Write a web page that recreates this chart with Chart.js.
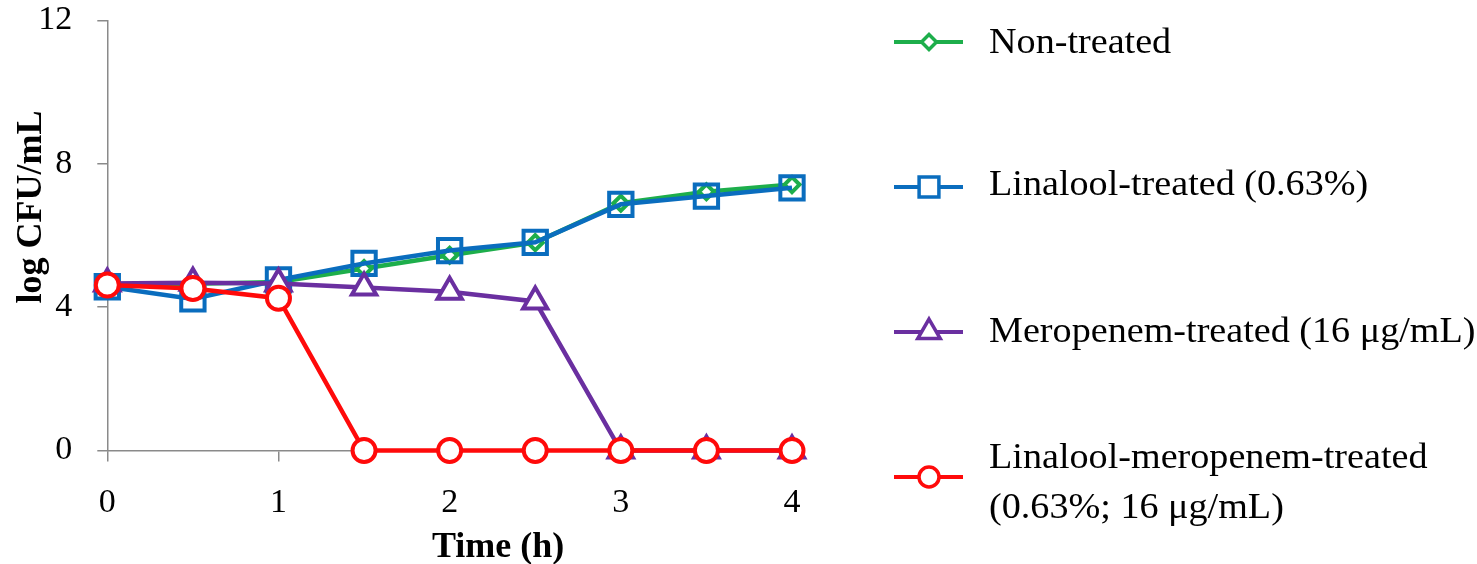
<!DOCTYPE html>
<html><head><meta charset="utf-8">
<script src="https://cdn.jsdelivr.net/npm/chart.js@4.4.0/dist/chart.umd.min.js"></script>
<style>html,body{margin:0;padding:0;background:#fff;overflow:hidden}#wrap{width:1477px;height:564px;position:relative}</style>
</head><body><div id="wrap"><canvas id="c" width="1477" height="564"></canvas></div>
<script>
const timePoints = [0, 0.5, 1, 1.5, 2, 2.5, 3, 3.5, 4];
const nonTreated = [4.60, 4.65, 4.70, 5.08, 5.45, 5.80, 6.90, 7.22, 7.42];
const linaloolTreated = [4.57, 4.23, 4.76, 5.22, 5.58, 5.81, 6.87, 7.10, 7.33];
const meropenemTreated = [4.66, 4.68, 4.66, 4.55, 4.43, 4.16, 0, 0, 0];
const comboTreated = [4.62, 4.52, 4.25, 0, 0, 0, 0, 0, 0];
const yTicks = [0, 4, 8, 12];
const xTicks = [0, 1, 2, 3, 4];
const seriesNames = [
  ['Non-treated'],
  ['Linalool-treated (0.63%)'],
  ['Meropenem-treated (16 μg/mL)'],
  ['Linalool-meropenem-treated', '(0.63%; 16 μg/mL)']
];
const xTitle = 'Time (h)';
const yTitle = 'log CFU/mL';

const SERIF = '"Liberation Serif", "DejaVu Serif", serif';
const colors = ['#1DAE4B', '#0A6DBE', '#6A2FA0', '#FF0A0A'];
const styles = [
  {pointStyle: 'rectRot', r: 7.5, bg: '#ffffff'},
  {pointStyle: 'rect', r: 16.5, bg: 'rgba(0,0,0,0)'},
  {pointStyle: 'triangle', r: 14, bg: '#ffffff'},
  {pointStyle: 'circle', r: 11.5, bg: '#ffffff'}
];
const allValues = [nonTreated, linaloolTreated, meropenemTreated, comboTreated];

const datasets = allValues.map((vals, i) => ({
  label: seriesNames[i].join(' '),
  data: timePoints.map((t, k) => ({x: t, y: vals[k]})),
  borderColor: colors[i],
  backgroundColor: styles[i].bg,
  borderWidth: 4.5,
  pointStyle: styles[i].pointStyle,
  pointRadius: styles[i].r,
  pointBorderWidth: 4,
  pointBorderColor: colors[i],
  pointBackgroundColor: styles[i].bg,
  tension: 0,
  clip: false,
  order: 3 - i
}));

function drawMarker(ctx, style, x, y, r, color, bg) {
  ctx.save();
  ctx.strokeStyle = color; ctx.fillStyle = bg; ctx.lineWidth = 3.5;
  ctx.beginPath();
  if (style === 'rectRot') {
    ctx.moveTo(x, y - r); ctx.lineTo(x + r, y); ctx.lineTo(x, y + r); ctx.lineTo(x - r, y); ctx.closePath();
  } else if (style === 'rect') {
    const s = r * Math.SQRT1_2; ctx.rect(x - s, y - s, 2 * s, 2 * s);
  } else if (style === 'triangle') {
    for (let k = 0; k < 3; k++) {
      const a = k * 2 * Math.PI / 3;
      const px = x + Math.sin(a) * r, py = y - Math.cos(a) * r;
      if (k === 0) ctx.moveTo(px, py); else ctx.lineTo(px, py);
    }
    ctx.closePath();
  } else {
    ctx.arc(x, y, r, 0, Math.PI * 2);
  }
  ctx.fill(); ctx.stroke();
  ctx.restore();
}

const legendRows = [
  {lineY: 42, baselines: [53]},
  {lineY: 187, baselines: [195]},
  {lineY: 332, baselines: [342]},
  {lineY: 477, baselines: [468, 518]}
];

const extras = {
  id: 'extras',
  afterDraw(chart) {
    const ctx = chart.ctx;
    ctx.save();
    ctx.fillStyle = '#000';
    ctx.font = 'bold 36px ' + SERIF;
    ctx.textAlign = 'left';
    ctx.textBaseline = 'alphabetic';
    ctx.fillText(xTitle, 432, 557);
    ctx.save();
    ctx.translate(41, 207);
    ctx.rotate(-Math.PI / 2);
    ctx.textAlign = 'center';
    ctx.fillText(yTitle, 0, 0);
    ctx.restore();
    legendRows.forEach((row, i) => {
      ctx.save();
      ctx.strokeStyle = colors[i]; ctx.lineWidth = 4;
      ctx.beginPath(); ctx.moveTo(894, row.lineY); ctx.lineTo(963, row.lineY); ctx.stroke();
      ctx.restore();
      const lr = [7.5, 14, 13, 10][i];
      drawMarker(ctx, styles[i].pointStyle, 929, row.lineY, lr, colors[i], '#ffffff');
      ctx.save();
      ctx.fillStyle = '#000';
      ctx.font = '35px ' + SERIF;
      ctx.textAlign = 'left';
      ctx.textBaseline = 'alphabetic';
      seriesNames[i].forEach((line, j) => {
        ctx.save();
        ctx.translate(989, row.baselines[j]);
        ctx.scale(1.09, 1);
        ctx.fillText(line, 0, 0);
        ctx.restore();
      });
      ctx.restore();
    });
    ctx.restore();
  }
};

new Chart(document.getElementById('c'), {
  type: 'line',
  data: {datasets},
  plugins: [extras],
  options: {
    responsive: false,
    animation: false,
    devicePixelRatio: 1,
    layout: {padding: {left: 0, top: 16, right: 685, bottom: 0}},
    plugins: {legend: {display: false}, tooltip: {enabled: false}, title: {display: false}},
    scales: {
      x: {
        type: 'linear', min: 0, max: 4,
        afterBuildTicks: s => { s.ticks = xTicks.map(v => ({value: v})); },
        afterFit: s => { s.height = 113.5; s.paddingLeft = 0; s.paddingRight = 0; },
        ticks: {font: {family: SERIF, size: 34}, color: '#000', padding: 21, maxRotation: 0, autoSkip: false},
        grid: {drawOnChartArea: false, drawTicks: true, tickLength: 11, color: '#8a8a8a', lineWidth: 1.5},
        border: {color: '#8a8a8a', width: 1.5}
      },
      y: {
        type: 'linear', min: 0, max: 12,
        afterBuildTicks: s => { s.ticks = yTicks.map(v => ({value: v})); },
        afterFit: s => { s.width = 107.3; s.paddingTop = 0; s.paddingBottom = 0; },
        ticks: {font: {family: SERIF, size: 34}, color: '#000', padding: 25, autoSkip: false},
        grid: {drawOnChartArea: false, drawTicks: true, tickLength: 10, color: '#8a8a8a', lineWidth: 1.5},
        border: {color: '#8a8a8a', width: 1.5}
      }
    }
  }
});
</script>
</body></html>
